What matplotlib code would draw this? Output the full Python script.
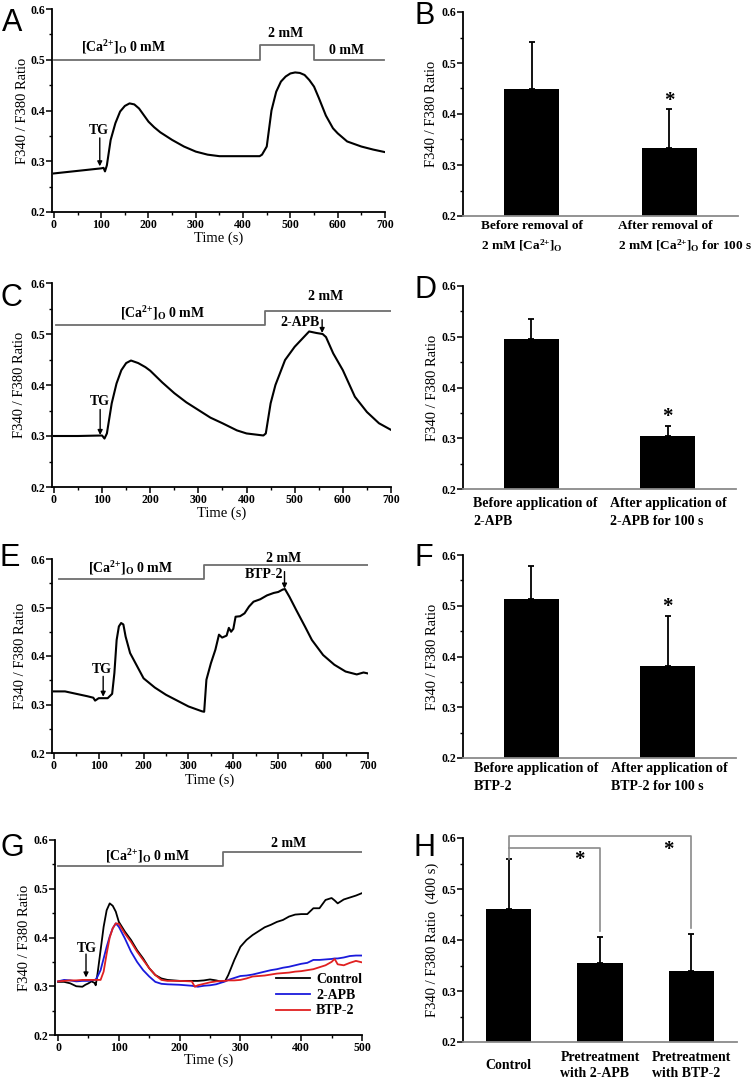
import numpy as np
import matplotlib
matplotlib.use('Agg')
import matplotlib.pyplot as plt
from matplotlib.ticker import MultipleLocator
from matplotlib.transforms import blended_transform_factory, ScaledTranslation

plt.rcParams['font.family'] = ['Liberation Serif', 'DejaVu Serif']
plt.rcParams['font.weight'] = 'bold'
plt.rcParams['mathtext.fontset'] = 'custom'
plt.rcParams['mathtext.rm'] = 'Liberation Serif:bold'
plt.rcParams['mathtext.it'] = 'Liberation Serif:bold'
plt.rcParams['mathtext.bf'] = 'Liberation Serif:bold'

CA = r'[Ca$^{2{+}}$]$_{\rm O}$'
CA0 = CA + ' 0 mM'
YLAB = 'F340 / F380 Ratio'

# ---- data ----
# A: Ca removal
A_t = [0, 50, 100, 105, 108, 112, 120, 130, 140, 150, 160, 170, 180, 190, 200, 212, 225, 250, 275,
       300, 325, 350, 400, 435, 440, 450, 460, 470, 480, 490, 500, 510, 520, 530, 540, 550, 560,
       575, 590, 600, 620, 650, 675, 700]
A_r = [0.276, 0.281, 0.286, 0.287, 0.280, 0.292, 0.342, 0.375, 0.398, 0.409, 0.414, 0.412, 0.404,
       0.391, 0.378, 0.367, 0.357, 0.342, 0.329, 0.319, 0.313, 0.310, 0.310, 0.310, 0.313, 0.329,
       0.400, 0.437, 0.457, 0.467, 0.473, 0.475, 0.474, 0.470, 0.460, 0.447, 0.425, 0.390, 0.365,
       0.355, 0.339, 0.329, 0.323, 0.318]
A_bath_t = [0, 435, 435, 549, 549, 697]
A_bath_r = [0.5, 0.5, 0.53, 0.53, 0.5, 0.5]

# C: 2-APB
C_t = [0, 50, 100, 105, 110, 120, 130, 140, 150, 160, 175, 190, 200, 225, 250, 275, 300, 325, 350,
       380, 400, 435, 440, 450, 460, 480, 500, 520, 530, 545, 558, 565, 580, 600, 625, 650, 675, 700]
C_r = [0.300, 0.300, 0.301, 0.295, 0.305, 0.364, 0.403, 0.429, 0.443, 0.448, 0.443, 0.435, 0.428,
       0.405, 0.384, 0.366, 0.351, 0.336, 0.325, 0.311, 0.305, 0.301, 0.305, 0.364, 0.400, 0.449,
       0.475, 0.495, 0.505, 0.502, 0.500, 0.494, 0.462, 0.429, 0.377, 0.347, 0.325, 0.312]
C_bath_t = [5, 439, 439, 700]
C_bath_r = [0.518, 0.518, 0.546, 0.546]

# E: BTP-2
E_t = [0, 25, 50, 75, 88, 92, 100, 120, 130, 135, 140, 145, 150, 155, 160, 170, 185, 200, 225, 250,
       275, 300, 330, 335, 340, 350, 360, 368, 375, 385, 390, 395, 400, 405, 415, 425, 435, 445,
       460, 475, 490, 500, 510, 515, 525, 540, 560, 575, 600, 625, 650, 675, 690, 700]
E_r = [0.327, 0.327, 0.322, 0.317, 0.314, 0.308, 0.313, 0.313, 0.322, 0.365, 0.433, 0.461, 0.468,
       0.465, 0.440, 0.406, 0.380, 0.354, 0.335, 0.320, 0.308, 0.296, 0.286, 0.285, 0.351, 0.385,
       0.413, 0.444, 0.438, 0.442, 0.458, 0.450, 0.456, 0.481, 0.482, 0.488, 0.502, 0.512, 0.517,
       0.525, 0.530, 0.532, 0.537, 0.538, 0.522, 0.495, 0.460, 0.433, 0.402, 0.382, 0.368, 0.362,
       0.366, 0.364]
E_bath_t = [11, 334, 334, 700]
E_bath_r = [0.559, 0.559, 0.588, 0.588]

# G: three conditions
G_t = [0, 10, 20, 30, 40, 45, 50, 55, 60, 62, 65, 70, 75, 80, 85, 90, 95, 100, 110, 120, 130, 140,
       150, 160, 170, 180, 200, 220, 225, 230, 240, 250, 260, 270, 275, 280, 290, 300, 310, 320,
       330, 340, 350, 360, 370, 380, 390, 400, 410, 420, 430, 440, 450, 455, 460, 470, 480, 490, 500]
G_ctrl = [0.309, 0.309, 0.306, 0.300, 0.299, 0.303, 0.306, 0.310, 0.307, 0.302, 0.326, 0.374,
          0.422, 0.456, 0.470, 0.465, 0.453, 0.432, 0.412, 0.395, 0.374, 0.357, 0.337, 0.323,
          0.316, 0.313, 0.311, 0.311, 0.311, 0.311, 0.312, 0.314, 0.312, 0.309, 0.311, 0.323,
          0.354, 0.381, 0.395, 0.405, 0.413, 0.421, 0.426, 0.432, 0.436, 0.443, 0.447, 0.448,
          0.448, 0.460, 0.460, 0.477, 0.481, 0.476, 0.470, 0.478, 0.482, 0.486, 0.491]
G_apb = [0.310, 0.313, 0.312, 0.310, 0.311, 0.311, 0.311, 0.312, 0.313, 0.314, 0.320, 0.333,
         0.357, 0.381, 0.402, 0.419, 0.429, 0.422, 0.398, 0.371, 0.350, 0.333, 0.320, 0.309,
         0.305, 0.304, 0.303, 0.301, 0.300, 0.299, 0.301, 0.302, 0.304, 0.308, 0.310, 0.313,
         0.317, 0.321, 0.322, 0.324, 0.327, 0.330, 0.333, 0.335, 0.338, 0.340, 0.343, 0.346,
         0.348, 0.354, 0.354, 0.355, 0.356, 0.357, 0.357, 0.359, 0.362, 0.363, 0.363]
G_btp = [0.310, 0.311, 0.312, 0.312, 0.313, 0.313, 0.313, 0.313, 0.313, 0.313, 0.313, 0.313,
         0.330, 0.367, 0.400, 0.419, 0.429, 0.428, 0.408, 0.391, 0.371, 0.354, 0.337, 0.323,
         0.313, 0.311, 0.311, 0.310, 0.299, 0.302, 0.305, 0.308, 0.310, 0.311, 0.311, 0.312,
         0.312, 0.313, 0.316, 0.320, 0.321, 0.322, 0.324, 0.326, 0.327, 0.328, 0.330, 0.331,
         0.333, 0.335, 0.339, 0.343, 0.350, 0.356, 0.345, 0.343, 0.348, 0.352, 0.349]
G_bath_t = [0, 272, 272, 500]
G_bath_r = [0.547, 0.547, 0.575, 0.575]

# bar panels: mean and upward error
B_mean = [0.449, 0.333]
B_err = [0.092, 0.077]
B_labels = ['Before removal of\n2 mM ' + CA, 'After removal of\n2 mM ' + CA + ' for 100 s']
D_mean = [0.496, 0.304]
D_err = [0.038, 0.021]
D_labels = ['Before application of\n2-APB', 'After application of\n2-APB for 100 s']
F_mean = [0.513, 0.381]
F_err = [0.066, 0.098]
F_labels = ['Before application of\nBTP-2', 'After application of\nBTP-2 for 100 s']
H_mean = [0.460, 0.354, 0.340]
H_err = [0.098, 0.051, 0.072]
H_labels = ['Control', 'Pretreatment\nwith 2-APB', 'Pretreatment\nwith BTP-2']

W, H = 754, 1082
fig = plt.figure(figsize=(W / 100, H / 100), dpi=100)


def px_axes(l, t, r, b):
    return fig.add_axes([l / W, 1 - b / H, (r - l) / W, (b - t) / H])


def base_style(ax, ylab_x, ylabel=YLAB):
    for s in ['top', 'right']:
        ax.spines[s].set_visible(False)
    ax.spines['left'].set_linewidth(1.3)
    ax.spines['bottom'].set_linewidth(1.3)
    ax.set_ylim(0.2, 0.6)
    ax.set_yticks([0.2, 0.3, 0.4, 0.5, 0.6])
    ax.yaxis.set_minor_locator(MultipleLocator(0.05))
    ax.tick_params(which='major', direction='out', length=4, width=1.1, labelsize=8.5, pad=1)
    ax.tick_params(which='minor', direction='out', length=2.5, width=1)
    ax.set_ylabel(ylabel, fontsize=10.5)
    ax.yaxis.set_label_coords(ylab_x, 0.5)
    ax.yaxis.label.set_va('center')


def trace_style(ax, xmax, xstep, ylab_x, xlab_y, xmin=-4):
    base_style(ax, ylab_x)
    ax.set_xlim(xmin, xmax)
    ax.set_xticks(np.arange(0, xmax + 1, xstep))
    ax.xaxis.set_minor_locator(MultipleLocator(xstep / 2))
    ax.set_xlabel('Time (s)', fontsize=10.5)
    ax.xaxis.set_label_coords(0.5, xlab_y)
    ax.xaxis.label.set_va('center')


def arrow(ax, x, y0, y1):
    ax.annotate('', xy=(x, y1), xytext=(x, y0),
                arrowprops=dict(arrowstyle='-|>', color='k', lw=1, mutation_scale=7,
                                shrinkA=0, shrinkB=0))


def bar_panel(ax, mean, err, labels, xoff, lab_y, star_y, ylab=YLAB, width=0.4,
              centered=False, fs=10):
    n = len(mean)
    pos = np.arange(1, n + 1)
    base_style(ax, -0.113, ylab)
    ax.bar(pos, mean, width=width, color='k')
    ax.errorbar(pos, mean, yerr=[np.zeros(n), err], fmt='none', ecolor='k',
                elinewidth=1.3, capsize=2.5, capthick=1.3)
    ax.set_xlim(0.5, n + 0.5)
    ax.set_xticks([])
    ax.spines['bottom'].set_color('#8a8a8a')
    tr = blended_transform_factory(ax.transData, ax.transAxes)
    for p, lab in zip(pos, labels):
        if centered:
            ax.text(p, lab_y, lab, transform=tr, ha='center', va='center',
                    multialignment='left', fontsize=fs, linespacing=1.25)
        else:
            ax.text(p, lab_y, lab, ha='left', va='top', multialignment='left', fontsize=fs,
                    linespacing=1.45,
                    transform=tr + ScaledTranslation(-xoff / 100, 0, fig.dpi_scale_trans))
    if star_y is not None:
        ax.text(2, star_y, '*', ha='center', va='center', fontsize=15)
    return pos


# ---------- A ----------
axA = px_axes(52, 9, 385, 212)
trace_style(axA, 700, 100, -0.09, -0.13)
axA.plot(A_t, A_r, color='k', lw=1.5)
axA.plot(A_bath_t, A_bath_r, color='#6e6e6e', lw=1.3)
axA.text(148, 0.517, CA0, ha='center', va='baseline', fontsize=10)
axA.text(489, 0.545, '2 mM', ha='center', va='baseline', fontsize=10)
axA.text(619, 0.512, '0 mM', ha='center', va='baseline', fontsize=10)
axA.text(95, 0.354, 'TG', ha='center', va='baseline', fontsize=10)
arrow(axA, 97, 0.346, 0.290)

# ---------- B ----------
axB = px_axes(463, 12, 738, 216)
bar_panel(axB, B_mean, B_err, B_labels, 51, -0.02, 0.425, fs=9.6)

# ---------- C ----------
axC = px_axes(52, 283, 391, 487)
trace_style(axC, 700, 100, -0.095, -0.13)
axC.plot(C_t, C_r, color='k', lw=1.5)
axC.plot(C_bath_t, C_bath_r, color='#6e6e6e', lw=1.3)
axC.text(225, 0.533, CA0, ha='center', va='baseline', fontsize=10)
axC.text(564, 0.566, '2 mM', ha='center', va='baseline', fontsize=10)
axC.text(512, 0.515, '2-APB', ha='center', va='baseline', fontsize=10)
arrow(axC, 557, 0.528, 0.502)
axC.text(95, 0.360, 'TG', ha='center', va='baseline', fontsize=10)
arrow(axC, 96, 0.352, 0.302)

# ---------- D ----------
axD = px_axes(463, 286, 736, 489)
bar_panel(axD, D_mean, D_err, D_labels, 58, -0.04, 0.342)

# ---------- E ----------
axE = px_axes(52, 559, 368, 753)
trace_style(axE, 700, 100, -0.10, -0.14)
axE.plot(E_t, E_r, color='k', lw=1.5)
axE.plot(E_bath_t, E_bath_r, color='#6e6e6e', lw=1.3)
axE.text(171, 0.572, CA0, ha='center', va='baseline', fontsize=10)
axE.text(512, 0.594, '2 mM', ha='center', va='baseline', fontsize=10)
axE.text(468, 0.561, 'BTP-2', ha='center', va='baseline', fontsize=10)
arrow(axE, 514, 0.574, 0.539)
axE.text(108, 0.365, 'TG', ha='center', va='baseline', fontsize=10)
arrow(axE, 110, 0.358, 0.316)

# ---------- F ----------
axF = px_axes(463, 555, 736, 758)
bar_panel(axF, F_mean, F_err, F_labels, 57, -0.02, 0.497)

# ---------- G ----------
axG = px_axes(55, 840, 362, 1035)
trace_style(axG, 500, 100, -0.10, -0.13, xmin=-5)
axG.plot(G_t, G_ctrl, color='k', lw=1.3, label='Control')
axG.plot(G_t, G_apb, color='#1a1adc', lw=1.3, label='2-APB')
axG.plot(G_t, G_btp, color='#e02020', lw=1.3, label='BTP-2')
axG.plot(G_bath_t, G_bath_r, color='#6e6e6e', lw=1.3)
axG.text(148, 0.557, CA0, ha='center', va='baseline', fontsize=10)
axG.text(379, 0.585, '2 mM', ha='center', va='baseline', fontsize=10)
axG.text(48, 0.371, 'TG', ha='center', va='baseline', fontsize=10)
arrow(axG, 46, 0.366, 0.318)
axG.legend(loc='lower right', bbox_to_anchor=(1.0, 0.09), frameon=False, fontsize=10,
           handlelength=2.5, handletextpad=0.4, labelspacing=0.2, borderaxespad=0,
           borderpad=0)

# ---------- H ----------
axH = px_axes(463, 838, 737, 1042)
pos = bar_panel(axH, H_mean, H_err, H_labels, 0, -0.115, None,
                ylab='F340 / F380 Ratio  (400 s)', width=0.5, centered=True)
top1 = H_mean[0] + H_err[0]
axH.plot([pos[0], pos[0], pos[2], pos[2]], [top1, 0.604, 0.604, H_mean[2] + H_err[2] + 0.012],
         color='#8a8a8a', lw=1.2, clip_on=False)
axH.plot([pos[0], pos[1], pos[1]], [0.58, 0.58, H_mean[1] + H_err[1] + 0.013],
         color='#8a8a8a', lw=1.2, clip_on=False)
axH.text(1.77, 0.557, '*', ha='center', va='center', fontsize=15)
axH.text(2.75, 0.577, '*', ha='center', va='center', fontsize=15)

# panel letters
for lab, x, y in [('A', 2, 8), ('B', 414, 1), ('C', 0, 283), ('D', 414, 275),
                  ('E', 0, 543), ('F', 414, 543), ('G', 0, 833), ('H', 413, 833)]:
    fig.text(x / W, 1 - y / H, lab, fontsize=22, family='Liberation Sans', fontweight='normal',
             ha='left', va='top')

fig.savefig('out.png', dpi=100)
